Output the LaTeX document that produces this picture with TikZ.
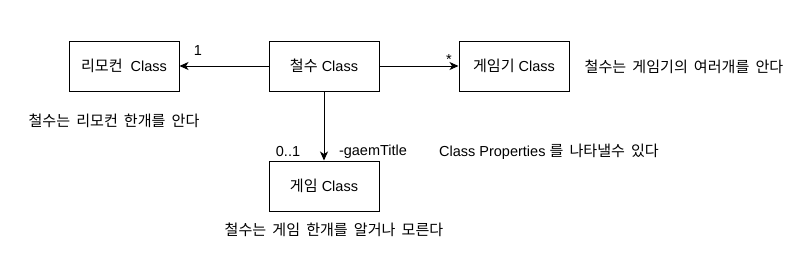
\documentclass[tikz,border=0pt]{standalone}
\usepackage{fontspec}
\setmainfont{Liberation Sans}
\newfontfamily\kr[WordSpace=1.8,Scale=1.04]{Noto Sans CJK KR}
\usetikzlibrary{arrows.meta}
\tikzset{
  cls/.style={draw=black, line width=1pt, minimum width=110pt, minimum height=50pt, inner sep=0pt, font=\fontsize{14.5pt}{16pt}\selectfont},
  lbl/.style={inner sep=0pt, font=\fontsize{14.5pt}{16pt}\selectfont},
  conn/.style={line width=1pt, -{Stealth[length=9pt,width=8pt,inset=2.5pt]}}
}
\begin{document}
\begin{tikzpicture}[x=1pt,y=-1pt]
\useasboundingbox[fill=white] (0,0) rectangle (794,260);
\node[cls] (remote) at (124,66) {{\kr 리모컨}\ \ Class};
\node[cls] (chulsu) at (324,66) {{\kr 철수} Class};
\node[cls] (console) at (514,66) {{\kr 게임기} Class};
\node[cls] (game) at (324,186) {{\kr 게임} Class};
\draw[conn] (chulsu) -- (remote);
\draw[conn] (chulsu) -- (console);
\draw[conn] (chulsu) -- (game);
\node[lbl] (m1) at (198,51) {1};
\node[lbl] (m2) at (449,60) {*};
\node[lbl] (m3) at (288,152) {0..1};
\node[lbl] (role) at (373,152) {-gaemTitle};
\node[lbl] (note4) at (549,152) {Class Properties {\kr 를 나타낼수 있다}};
\node[lbl] (note1) at (114,121) {\kr 철수는 리모컨 한개를 안다};
\node[lbl] (note2) at (684,67) {\kr 철수는 게임기의 여러개를 안다};
\node[lbl] (note3) at (334,230) {\kr 철수는 게임 한개를 알거나 모른다};
\end{tikzpicture}
\end{document}
